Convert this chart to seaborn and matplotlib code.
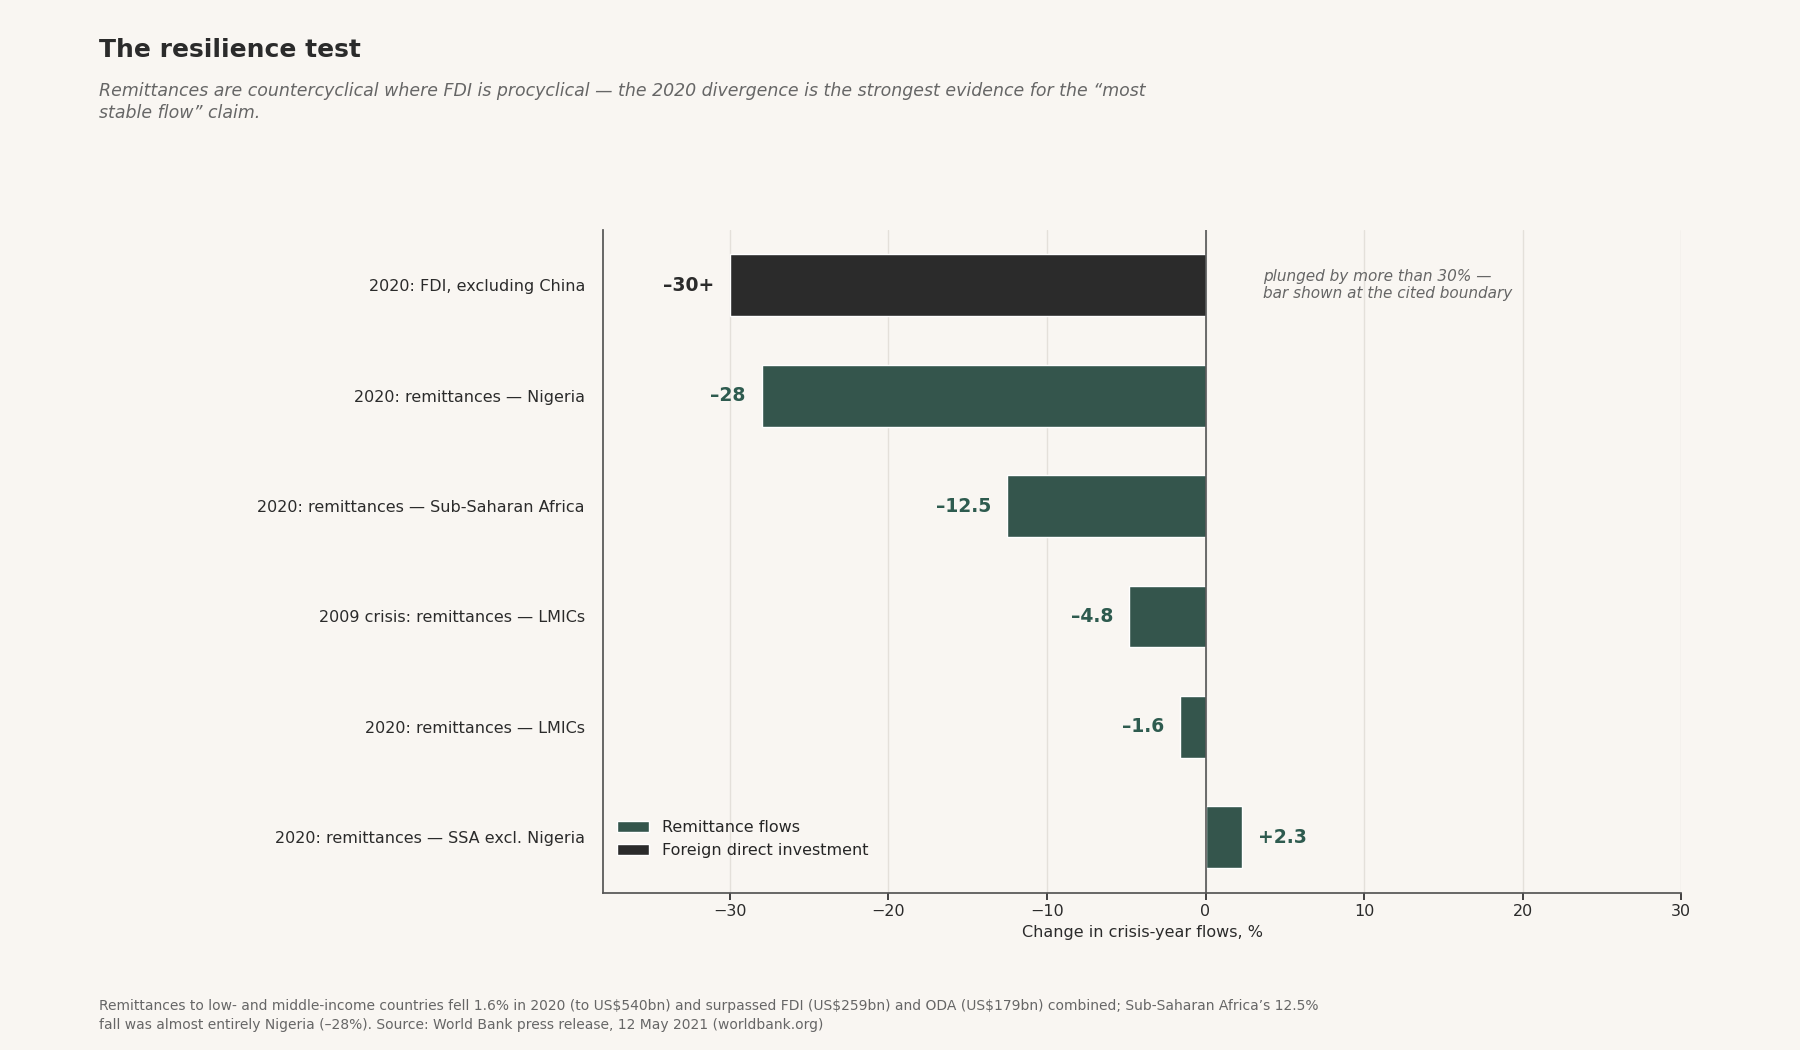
import pandas as pd
import seaborn as sns
from matplotlib import pyplot as plt

labels = ["2020: FDI, excluding China", "2020: remittances — Nigeria",
          "2020: remittances — Sub-Saharan Africa", "2009 crisis: remittances — LMICs",
          "2020: remittances — LMICs", "2020: remittances — SSA excl. Nigeria"]
values = [-30, -28, -12.5, -4.8, -1.6, 2.3]
value_text = ["–30+", "–28", "–12.5", "–4.8", "–1.6", "+2.3"]
flow = ["Foreign direct investment"] + ["Remittance flows"] * 5

BG = "#f9f6f2"
GREEN = "#2e5b4f"
DARK = "#2b2b2b"

df = pd.DataFrame({"label": labels, "value": values, "flow": flow})

sns.set_theme(style="white")
plt.rcParams["font.family"] = ["DejaVu Sans"]

fig = plt.figure(figsize=(18, 10.5), dpi=100, facecolor=BG)
ax = fig.add_axes([0.335, 0.15, 0.599, 0.631], facecolor=BG)

sns.barplot(data=df, y="label", x="value", hue="flow", dodge=False, orient="h",
            hue_order=["Remittance flows", "Foreign direct investment"],
            palette={"Remittance flows": GREEN, "Foreign direct investment": DARK},
            width=0.56, ax=ax, zorder=3)

ax.set_xlim(-38, 30)
ax.set_xticks(range(-30, 31, 10))
ax.set_xticklabels(["−30", "−20", "−10", "0", "10", "20", "30"])
ax.grid(axis="x", color="#e4e0da", linewidth=1, zorder=0)
ax.axvline(0, color="#555555", linewidth=1.2, zorder=4)
for s in ["top", "right"]:
    ax.spines[s].set_visible(False)
for s in ["left", "bottom"]:
    ax.spines[s].set_color("#555555")
ax.tick_params(axis="both", labelsize=11.5, colors="#2b2b2b", length=5, left=False, bottom=True)
ax.tick_params(axis="y", pad=8)
ax.set_ylabel("")
ax.set_xlabel("Change in crisis-year flows, %", fontsize=11.5, color="#2b2b2b")

for i, (v, t, f) in enumerate(zip(values, value_text, flow)):
    c = DARK if f.startswith("Foreign") else GREEN
    if v < 0:
        ax.text(v - 1, i, t, ha="right", va="center", fontsize=13.5, fontweight="bold", color=c)
    else:
        ax.text(v + 1, i, t, ha="left", va="center", fontsize=13.5, fontweight="bold", color=c)

ax.text(3.6, 0, "plunged by more than 30% —\nbar shown at the cited boundary",
        ha="left", va="center", fontsize=11, style="italic", color="#666666")

leg = ax.legend(loc="lower left", frameon=False, fontsize=11.5, bbox_to_anchor=(0.0, 0.03))

fig.text(0.055, 0.952, "The resilience test", fontsize=18, fontweight="bold", color="#2b2b2b", va="center")
fig.text(0.055, 0.903, "Remittances are countercyclical where FDI is procyclical — the 2020 divergence is the strongest evidence for the “most\nstable flow” claim.",
         fontsize=12.5, style="italic", color="#666666", va="center", linespacing=1.3)
fig.text(0.055, 0.033, "Remittances to low- and middle-income countries fell 1.6% in 2020 (to US$540bn) and surpassed FDI (US$259bn) and ODA (US$179bn) combined; Sub-Saharan Africa’s 12.5%\nfall was almost entirely Nigeria (–28%). Source: World Bank press release, 12 May 2021 (worldbank.org)",
         fontsize=10, color="#666666", va="center", linespacing=1.5)

fig.savefig("out.png", facecolor=BG)
